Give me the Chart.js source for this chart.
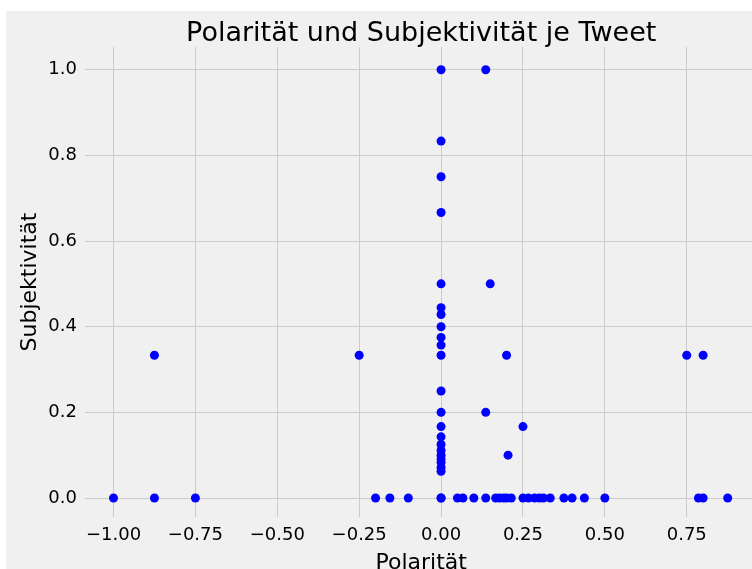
<!DOCTYPE html>
<html>
<head>
<meta charset="utf-8">
<script src="https://cdn.jsdelivr.net/npm/chart.js@4/dist/chart.umd.min.js"></script>
<style>
  html, body { margin: 0; padding: 0; background: #ffffff; overflow: hidden; width: 752px; height: 569px; }
  #wrap { position: absolute; left: 6px; top: 11px; width: 756px; height: 558px; background: #f0f0f0; }
</style>
</head>
<body>
<div id="wrap"><canvas id="scatter" width="756" height="558"></canvas></div>
<script>
// DATA
const polarity = [
    // column at 0
    0, 0, 0, 0, 0, 0, 0, 0, 0, 0, 0, 0, 0, 0, 0, 0, 0, 0, 0, 0, 0, 0, 0, 0,
    // scattered points
    0.1364, 0.15, 0.2, 0.1364, 0.25, 0.2045, -0.875, -0.25, 0.75, 0.8,
    // bottom row
    -1.0, -0.875, -0.75, -0.2, -0.1563, -0.1, 0.05, 0.0667, 0.1, 0.1364, 0.1667, 0.1786,
    0.1905, 0.2, 0.2143, 0.25, 0.2667, 0.2857, 0.3, 0.3125, 0.3333, 0.375, 0.4, 0.4375,
    0.5, 0.7857, 0.8, 0.875
];
const subjectivity = [
    1.0, 0.8333, 0.75, 0.6667, 0.5, 0.4444, 0.4286, 0.4, 0.375, 0.3571, 0.3333, 0.25,
    0.2, 0.1667, 0.1429, 0.125, 0.1111, 0.1, 0.0909, 0.0833, 0.0714, 0.0625, 0.0, 0.0,
    1.0, 0.5, 0.3333, 0.2, 0.1667, 0.1, 0.3333, 0.3333, 0.3333, 0.3333,
    0, 0, 0, 0, 0, 0, 0, 0, 0, 0, 0, 0,
    0, 0, 0, 0, 0, 0, 0, 0, 0, 0, 0, 0,
    0, 0, 0, 0
];
const xTicks = [-1.0, -0.75, -0.5, -0.25, 0.0, 0.25, 0.5, 0.75];
const yTicks = [0.0, 0.2, 0.4, 0.6, 0.8, 1.0];

const chartTitle = "Polarität und Subjektivität je Tweet";
const xLabel = "Polarität";
const yLabel = "Subjektivität";

const FONT = "'DejaVu Sans', sans-serif";
const gridColor = "#cbcbcb";

const points = polarity.map((p, i) => ({ x: p, y: subjectivity[i] }));

new Chart(document.getElementById("scatter"), {
    type: "scatter",
    data: {
        datasets: [{
            data: points,
            backgroundColor: "#0000ff",
            borderWidth: 0,
            pointRadius: 4.5,
            pointHoverRadius: 4.5
        }]
    },
    options: {
        responsive: false,
        animation: false,
        layout: { padding: 0 },
        plugins: {
            legend: { display: false },
            tooltip: { enabled: false },
            title: {
                display: true,
                text: chartTitle,
                fullSize: false,
                color: "#000000",
                font: { family: FONT, size: 27, weight: "normal", lineHeight: 1.0 },
                padding: { top: 9, bottom: 0 }
            }
        },
        scales: {
            x: {
                type: "linear",
                min: -1.087,
                max: 0.966,
                afterBuildTicks: s => { s.ticks = xTicks.map(v => ({ value: v })); },
                afterFit: s => { s.height = 52; s.paddingLeft = 0; s.paddingRight = 0; },
                grid: { color: gridColor, lineWidth: 1, drawTicks: false },
                border: { display: false },
                ticks: {
                    autoSkip: false,
                    maxRotation: 0,
                    padding: 8,
                    color: "#000000",
                    font: { family: FONT, size: 18 },
                    callback: v => (v < 0 ? "\u2212" : "") + Math.abs(v).toFixed(2)
                },
                title: {
                    display: true,
                    text: xLabel,
                    color: "#000000",
                    font: { family: FONT, size: 22 },
                    padding: { top: 0, bottom: -7 }
                }
            },
            y: {
                type: "linear",
                min: -0.0443,
                max: 1.053,
                afterBuildTicks: s => { s.ticks = yTicks.map(v => ({ value: v })); },
                afterFit: s => { s.width = 79; },
                grid: { color: gridColor, lineWidth: 1, drawTicks: false },
                border: { display: false },
                ticks: {
                    autoSkip: false,
                    padding: 8,
                    color: "#000000",
                    font: { family: FONT, size: 18 },
                    callback: v => v.toFixed(1)
                },
                title: {
                    display: true,
                    text: yLabel,
                    color: "#000000",
                    font: { family: FONT, size: 22 },
                    padding: { top: 11, bottom: 0 }
                }
            }
        }
    }
});
</script>
</body>
</html>
